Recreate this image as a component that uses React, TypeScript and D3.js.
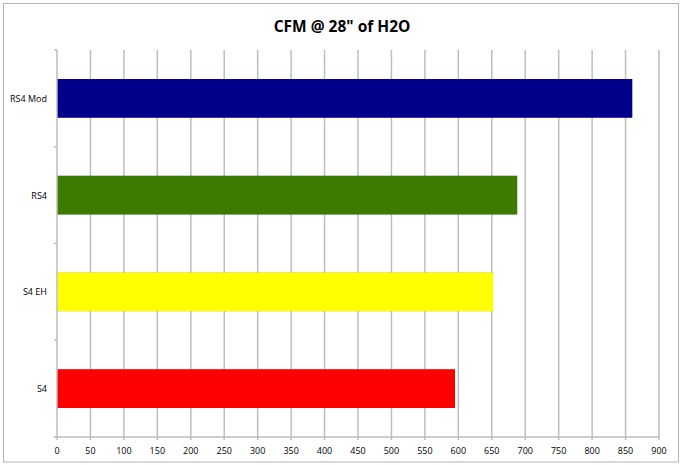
import { useRef, useEffect } from "react";
import * as d3 from "d3";

// categories top to bottom
const categories = ["RS4 Mod", "RS4", "S4 EH", "S4"];
const cfmValues = [860, 688, 652, 595];
const barColors = ["#00008b", "#3c7b00", "#ffff00", "#ff0000"];
const xTicks = d3.range(0, 901, 50);
const chartTitle = "CFM @ 28\" of H2O";

const W = 683;
const H = 466;
const margin = { top: 50, right: 24, bottom: 29, left: 57 };

export default function App() {
  const svgRef = useRef<SVGSVGElement>(null);

  useEffect(() => {
    const svg = d3.select(svgRef.current);
    svg.selectAll("*").remove();

    const x = d3.scaleLinear()
      .domain([0, 900])
      .range([margin.left, 659]);

    const y = d3.scaleBand()
      .domain(categories)
      .range([margin.top, H - margin.bottom])
      .paddingInner(0.6)
      .paddingOuter(0.3);

    const bottom = H - margin.bottom;

    // outer frame
    svg.append("rect")
      .attr("x", 3.5).attr("y", 3.5)
      .attr("width", 675).attr("height", 458.5)
      .attr("fill", "#fff")
      .attr("stroke", "#b4b4b4")
      .attr("stroke-width", 1);

    svg.append("text")
      .attr("x", 342).attr("y", 32)
      .attr("text-anchor", "middle")
      .attr("font-family", "'Open Sans', sans-serif")
      .attr("font-weight", "bold")
      .attr("font-size", 15.5)
      .text(chartTitle);

    // vertical grid lines, run a bit past the axis as ticks
    svg.append("g")
      .selectAll("line")
      .data(xTicks.slice(1))
      .join("line")
      .attr("x1", (d) => x(d)).attr("x2", (d) => x(d))
      .attr("y1", margin.top).attr("y2", bottom + 3)
      .attr("stroke", "#bdbdbd")
      .attr("stroke-width", 1.5);

    // category tick marks on band boundaries
    const step = (H - margin.bottom - margin.top) / categories.length;
    svg.append("g")
      .selectAll("line")
      .data(d3.range(categories.length + 1))
      .join("line")
      .attr("x1", margin.left - 3).attr("x2", margin.left)
      .attr("y1", (i) => margin.top + i * step)
      .attr("y2", (i) => margin.top + i * step)
      .attr("stroke", "#bdbdbd")
      .attr("stroke-width", 1.5);

    // bars
    svg.append("g")
      .selectAll("rect")
      .data(categories)
      .join("rect")
      .attr("x", x(0))
      .attr("y", (d) => y(d)!)
      .attr("width", (_, i) => x(cfmValues[i]) - x(0))
      .attr("height", y.bandwidth())
      .attr("fill", (_, i) => barColors[i])
      .style("filter", "drop-shadow(0.5px 0.8px 0.6px rgba(0,0,0,0.35))");

    // axes lines
    svg.append("line")
      .attr("x1", margin.left).attr("x2", margin.left)
      .attr("y1", margin.top).attr("y2", bottom + 3)
      .attr("stroke", "#bdbdbd").attr("stroke-width", 1.5);
    svg.append("line")
      .attr("x1", margin.left - 3).attr("x2", x(900))
      .attr("y1", bottom).attr("y2", bottom)
      .attr("stroke", "#bdbdbd").attr("stroke-width", 1.5);

    // tick labels
    svg.append("g")
      .selectAll("text")
      .data(xTicks)
      .join("text")
      .attr("x", (d) => x(d))
      .attr("y", bottom + 17)
      .attr("text-anchor", "middle")
      .attr("font-family", "'Open Sans', sans-serif")
      .attr("font-size", 9)
      .text((d) => d);

    svg.append("g")
      .selectAll("text")
      .data(categories)
      .join("text")
      .attr("x", 47)
      .attr("y", (d) => y(d)! + y.bandwidth() / 2 + 3.5)
      .attr("text-anchor", "end")
      .attr("font-family", "'Open Sans', sans-serif")
      .attr("font-size", 9)
      .text((d) => d);
  }, []);

  return (
    <svg
      ref={svgRef}
      width={W}
      height={H}
      style={{ position: "absolute", left: 0, top: 0 }}
    />
  );
}
